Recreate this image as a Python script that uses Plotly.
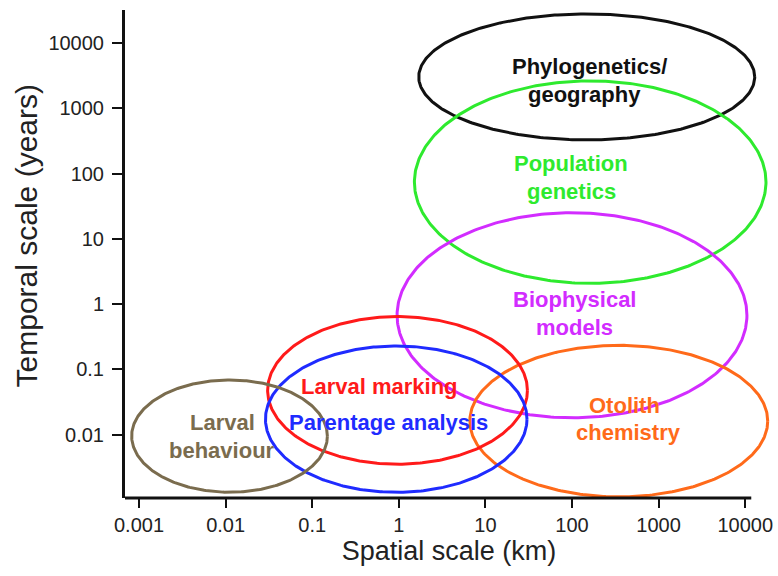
import numpy as np
import plotly.graph_objects as go

# Ellipse definitions in log10 space: centre (km, years) and half-widths (decades)
names = ["Phylogenetics/geography", "Population genetics", "Biophysical models",
         "Otolith chemistry", "Larval marking", "Parentage analysis", "Larval behaviour"]
center_log_x = [2.17, 2.21, 2.00, 2.54, -0.015, -0.03, -1.955]
center_log_y = [3.48, 1.87, -0.17, -1.79, -1.32, -1.76, -2.02]
half_width_log_x = [1.94, 2.03, 2.02, 1.72, 1.50, 1.51, 1.13]
half_width_log_y = [0.965, 1.55, 1.57, 1.16, 1.13, 1.12, 0.86]
colors = ["#111111", "#2eea2e", "#d22cff", "#ff6a1a", "#ff1a1a", "#1f2bff", "#7a6c4e"]

# Label lines and their anchor positions (km, years)
label_lines = [
    ("Phylogenetics/", 160, 4300, "#111111"),
    ("geography", 140, 1650, "#111111"),
    ("Population", 98, 142, "#2eea2e"),
    ("genetics", 98, 54, "#2eea2e"),
    ("Biophysical", 107, 1.16, "#d22cff"),
    ("models", 107, 0.435, "#d22cff"),
    ("Otolith", 400, 0.028, "#ff6a1a"),
    ("chemistry", 450, 0.0107, "#ff6a1a"),
    ("Larval marking", 0.6, 0.054, "#ff1a1a"),
    ("Parentage analysis", 0.75, 0.0155, "#1f2bff"),
    ("Larval", 0.0092, 0.0155, "#7a6c4e"),
    ("behaviour", 0.0092, 0.0057, "#7a6c4e"),
]

x_tickvals = [0.001, 0.01, 0.1, 1, 10, 100, 1000, 10000]
x_ticktext = ["0.001", "0.01", "0.1", "1", "10", "100", "1000", "10000"]
y_tickvals = [0.01, 0.1, 1, 10, 100, 1000, 10000]
y_ticktext = ["0.01", "0.1", "1", "10", "100", "1000", "10000"]

x_axis_start_log, x_axis_end_log, x_range_end_log = -3.162, 4.07, 4.321
y_range_log = [-2.968, 4.505]

fig = go.Figure()
t = np.linspace(0, 2 * np.pi, 361)
for n, cx, cy, rx, ry, c in zip(names, center_log_x, center_log_y,
                                half_width_log_x, half_width_log_y, colors):
    fig.add_trace(go.Scatter(
        x=10 ** (cx + rx * np.cos(t)), y=10 ** (cy + ry * np.sin(t)),
        mode="lines", line=dict(color=c, width=3), name=n,
        hoverinfo="name", showlegend=False))

for txt, xv, yv, c in label_lines:
    fig.add_annotation(x=np.log10(xv), y=np.log10(yv), text="<b>%s</b>" % txt,
                       showarrow=False, xref="x", yref="y",
                       font=dict(family="Liberation Sans, Arial", size=22, color=c))

# y-axis title as annotation (placed slightly above plot centre like reference)
fig.add_annotation(x=-0.152, y=0.537, xref="paper", yref="paper", showarrow=False,
                   xanchor="center", yanchor="middle",
                   text="Temporal scale (years)", textangle=-90,
                   font=dict(family="Liberation Sans, Arial", size=30, color="#222222"))

# x-axis line (stops before right edge, as in reference)
fig.add_shape(type="line", xref="x", yref="paper",
              x0=10 ** x_axis_start_log, x1=10 ** x_axis_end_log, y0=0, y1=0,
              line=dict(color="#111111", width=3))

fig.update_layout(
    width=778, height=576,
    margin=dict(l=125, r=5, t=10, b=78),
    paper_bgcolor="white", plot_bgcolor="white",
    font=dict(family="Liberation Sans, Arial", color="#222222"),
    xaxis=dict(type="log", range=[x_axis_start_log, x_range_end_log],
               tickvals=x_tickvals, ticktext=x_ticktext,
               ticks="outside", ticklen=9, tickwidth=2, tickcolor="#111111",
               showline=False, showgrid=False, zeroline=False,
               tickfont=dict(size=20, color="#222222"),
               title=dict(text="Spatial scale (km)", standoff=6,
                          font=dict(size=27, color="#222222"))),
    yaxis=dict(type="log", range=y_range_log,
               tickvals=y_tickvals, ticktext=y_ticktext,
               ticks="outside", ticklen=10, tickwidth=2, tickcolor="#111111",
               showline=True, linecolor="#111111", linewidth=3,
               showgrid=False, zeroline=False, ticklabelstandoff=4,
               tickfont=dict(size=20, color="#222222")),
)

fig.write_html("out.html")
